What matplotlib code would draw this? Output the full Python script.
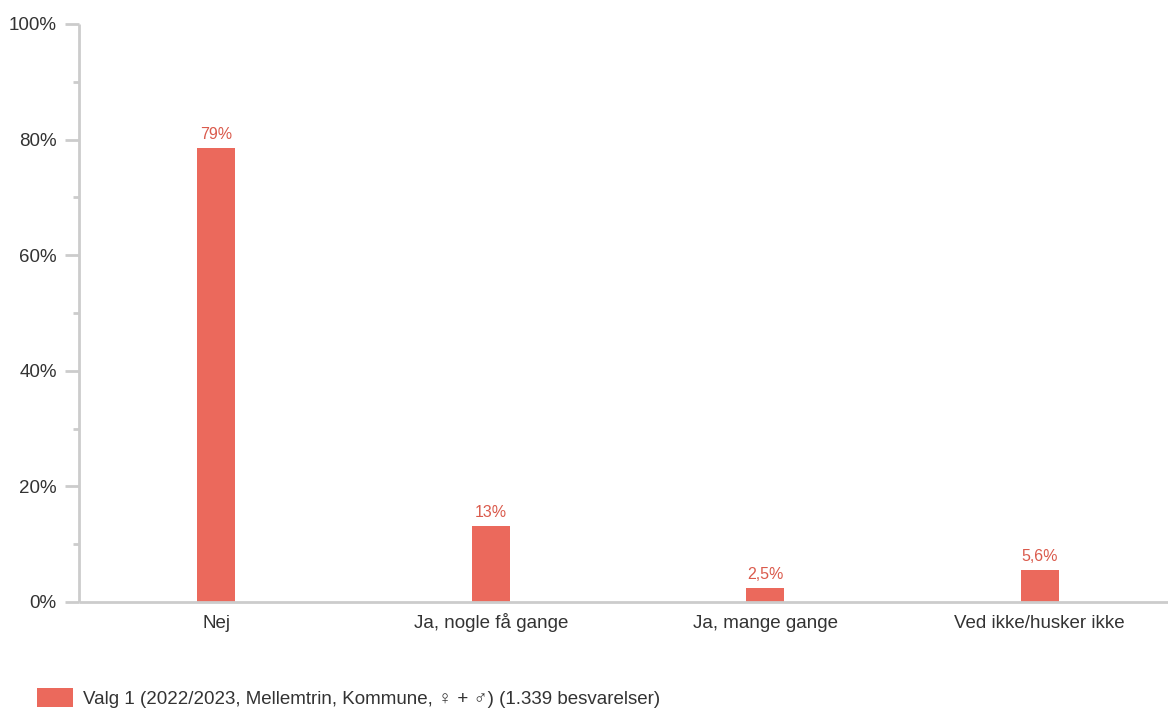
import matplotlib.pyplot as plt
from matplotlib.ticker import MultipleLocator, FuncFormatter

plt.rcParams['font.family'] = ['Liberation Sans', 'DejaVu Sans']

# Data
categories = ["Nej", "Ja, nogle få gange", "Ja, mange gange", "Ved ikke/husker ikke"]
values = [78.6, 13.2, 2.5, 5.6]
value_labels = ["79%", "13%", "2,5%", "5,6%"]
series_name = "Valg 1 (2022/2023, Mellemtrin, Kommune, ♀ + ♂) (1.339 besvarelser)"

bar_color = "#EB695C"
label_color = "#DA5A4C"
text_color = "#333333"
axis_color = "#CCCCCC"

fig = plt.figure(figsize=(11.68, 7.09), dpi=100)
ax = fig.add_axes([79 / 1168, 1 - 602 / 709, 1098 / 1168, 578 / 709])

x = range(len(categories))
bars = ax.bar(x, values, width=0.138, color=bar_color, label=series_name, zorder=2)

for xi, v, lab in zip(x, values, value_labels):
    ax.annotate(lab, (xi, v), xytext=(0, 4), textcoords="offset points",
                ha="center", va="bottom", fontsize=11.5, color=label_color)

ax.set_xlim(-0.5, 3.5)
ax.set_ylim(0, 100)
ax.yaxis.set_major_locator(MultipleLocator(20))
ax.yaxis.set_minor_locator(MultipleLocator(10))
ax.yaxis.set_major_formatter(FuncFormatter(lambda v, p: f"{v:.0f}%"))
ax.set_xticks(list(x))
ax.set_xticklabels(categories)

for side in ["top", "right"]:
    ax.spines[side].set_visible(False)
for side in ["left", "bottom"]:
    ax.spines[side].set_color(axis_color)
    ax.spines[side].set_linewidth(2)
    ax.spines[side].set_capstyle("butt")

ax.tick_params(axis="y", which="major", length=10, width=2, color=axis_color,
               labelsize=13.5, labelcolor=text_color, pad=6)
ax.tick_params(axis="y", which="minor", length=4, width=2, color=axis_color)
ax.tick_params(axis="x", length=0, labelsize=13.5, labelcolor=text_color, pad=19)
for t in ax.get_xticklabels():
    t.set_verticalalignment("baseline")

fig.legend(handles=[bars], loc="lower left", bbox_to_anchor=(37 / 1168, 1 / 709),
           frameon=False, fontsize=13.5, handlelength=1.92, handleheight=1.17,
           handletextpad=0.53, borderpad=0, borderaxespad=0, labelcolor=text_color)

fig.savefig("out.png", dpi=100)
